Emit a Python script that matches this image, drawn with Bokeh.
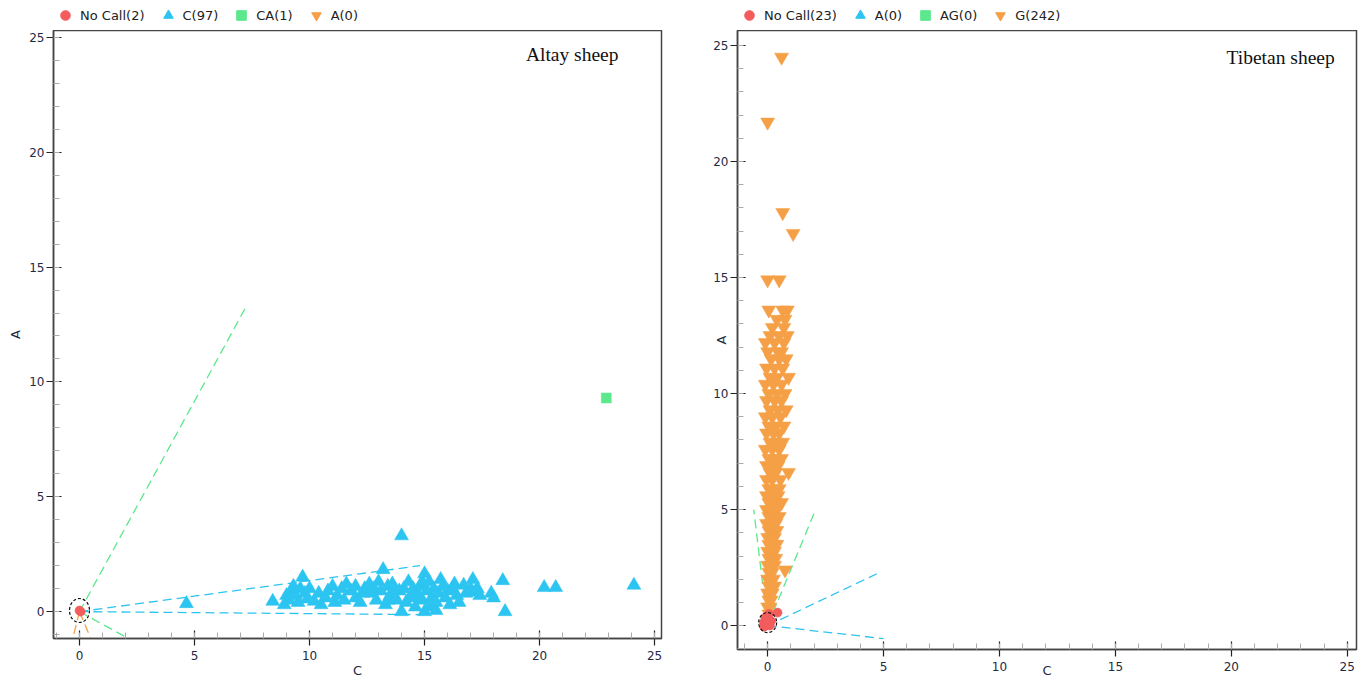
from bokeh.plotting import figure
from bokeh.layouts import row, column
from bokeh.models import Legend, LegendItem, Label, SingleIntervalTicker, Range1d
from bokeh.embed import file_html
from bokeh.resources import INLINE

# ---------------- data: Altay sheep ----------------
altay_nocall = [(0.0, 0.05), (0.05, 0.0)]
altay_C = [
    (4.65, 0.35), (14.0, 3.3), (20.2, 1.05), (20.7, 1.05), (24.1, 1.15), (18.4, 1.35), (18.5, 0.0),
    (8.4, 0.45), (8.9, 0.3), (9.1, 0.5), (9.2, 0.9), (9.3, 1.1), (9.4, 0.7), (9.5, 0.4), (9.6, 1.0),
    (9.7, 1.5), (9.8, 0.8), (9.9, 0.55), (10.0, 1.0), (10.2, 0.45), (9.0, 0.7), (10.4, 0.8),
    (10.5, 0.3), (10.7, 0.6), (10.8, 0.9), (11.0, 1.1), (11.1, 0.4), (11.2, 0.7), (11.4, 1.0),
    (11.5, 0.5), (11.6, 1.2), (11.8, 0.9), (12.0, 0.6), (12.0, 1.1), (12.2, 0.4), (12.3, 0.8),
    (12.4, 1.0), (12.6, 1.2), (12.7, 0.8), (12.8, 1.0), (12.9, 0.5), (13.0, 1.3), (13.1, 0.9),
    (13.2, 1.83), (13.3, 0.3), (13.4, 1.1), (13.4, 0.5), (13.5, 0.7), (13.6, 1.2), (13.7, 1.0),
    (13.8, 0.5), (13.9, 0.9), (14.0, 0.0), (14.1, 1.0), (14.2, 0.4), (14.3, 1.3), (14.4, 0.7),
    (14.5, 1.0), (14.6, 0.2), (14.6, 0.6), (14.7, 0.8), (14.8, 1.1), (14.9, 0.5), (14.9, 1.3),
    (15.0, 1.65), (15.0, 0.0), (15.1, 0.9), (15.2, 1.3), (15.2, 0.2), (15.3, 0.6), (15.4, 1.0),
    (15.5, 0.05), (15.5, 0.4), (15.6, 0.8), (15.7, 1.4), (15.8, 1.1), (15.9, 0.6), (16.0, 0.9),
    (16.1, 0.3), (16.2, 1.0), (16.3, 1.2), (16.4, 0.7), (16.5, 0.4), (16.7, 1.15), (16.8, 0.8),
    (17.0, 1.0), (17.1, 1.4), (17.2, 0.85), (17.3, 1.0), (17.4, 0.7), (17.9, 0.8), (18.0, 0.6),
]
altay_CA = [(22.9, 9.3)]
altay_A = []
altay_labels = ["No Call(2)", "C(97)", "CA(1)", "A(0)"]
# cluster boundary end points (lines start at origin)
altay_C_bounds = [(14.8, 2.0), (15.0, -0.13)]
altay_CA_bounds = [(7.2, 13.2), (2.0, -1.1)]
altay_A_bounds = [(-0.3, -1.2), (0.5, -1.2)]

# ---------------- data: Tibetan sheep ----------------
tibet_nocall = [(0.43, 0.56), (-0.17, 0.13), (-0.1, 0.35), (0.1, 0.0), (0.0, 0.25),
                (-0.15, -0.05), (0.05, 0.5), (0.15, 0.2), (-0.05, 0.1)]
tibet_A = []
tibet_AG = []
tibet_G = [
    (0.6, 24.5), (0.0, 21.7), (0.65, 17.8), (1.1, 16.9), (0.0, 14.9), (0.5, 14.9),
    (0.05, 13.6), (0.65, 13.6), (0.85, 13.6), (0.4, 13.2), (0.75, 13.2), (0.7, 12.85), (0.2, 12.85),
    (0.1, 12.5), (0.5, 12.5), (0.85, 12.5), (-0.1, 12.2), (0.3, 12.2), (0.7, 12.2),
    (0.0, 11.8), (0.45, 11.8), (0.6, 11.8), (0.15, 11.5), (0.5, 11.5), (0.8, 11.5),
    (-0.05, 11.1), (0.3, 11.1), (0.65, 11.1), (0.1, 10.7), (0.4, 10.7), (0.9, 10.7),
    (-0.1, 10.4), (0.25, 10.4), (0.6, 10.4), (0.05, 10.0), (0.4, 10.0), (0.75, 10.0),
    (-0.05, 9.7), (0.3, 9.7), (0.6, 9.7), (0.1, 9.3), (0.45, 9.3), (0.8, 9.3),
    (-0.1, 9.0), (0.2, 9.0), (0.55, 9.0), (0.05, 8.6), (0.35, 8.6), (0.7, 8.6),
    (-0.05, 8.3), (0.25, 8.3), (0.5, 8.3), (0.1, 7.9), (0.4, 7.9), (0.65, 7.9),
    (-0.1, 7.6), (0.2, 7.6), (0.5, 7.6), (0.05, 7.2), (0.3, 7.2), (0.6, 7.2),
    (-0.05, 6.9), (0.2, 6.9), (0.45, 6.9), (0.1, 6.6), (0.35, 6.6), (0.9, 6.6),
    (-0.05, 6.3), (0.2, 6.3), (0.55, 6.3), (0.05, 5.9), (0.3, 5.9), (0.5, 5.9),
    (-0.05, 5.6), (0.2, 5.6), (0.45, 5.6), (0.05, 5.3), (0.3, 5.3), (0.6, 5.3),
    (-0.05, 5.0), (0.15, 5.0), (0.4, 5.0), (0.05, 4.7), (0.25, 4.7), (0.5, 4.7),
    (-0.05, 4.4), (0.15, 4.4), (0.35, 4.4), (0.05, 4.1), (0.25, 4.1), (0.4, 4.1),
    (0.0, 3.8), (0.15, 3.8), (0.3, 3.8), (0.05, 3.5), (0.25, 3.5), (0.4, 3.5),
    (0.0, 3.2), (0.15, 3.2), (0.3, 3.2), (0.05, 2.9), (0.2, 2.9), (0.35, 2.9),
    (0.0, 2.6), (0.15, 2.6), (0.3, 2.6), (0.05, 2.3), (0.2, 2.3), (0.75, 2.4),
    (0.0, 2.0), (0.1, 2.0), (0.25, 2.0), (0.05, 1.7), (0.15, 1.7), (0.3, 1.7),
    (0.0, 1.4), (0.1, 1.4), (0.2, 1.4), (0.05, 1.1), (0.15, 1.1), (0.0, 0.8), (0.1, 0.8), (0.05, 0.5),
]
tibet_labels = ["No Call(23)", "A(0)", "AG(0)", "G(242)"]
tibet_A_bounds = [(4.85, 2.3), (5.0, -0.56)]
tibet_AG_bounds = [(-0.6, 5.0), (2.07, 5.0)]

RED = "#f25c5c"
CYAN = "#2cc4f0"
GREEN = "#5ce88c"
ORANGE = "#f5a046"
TICK_FONT = "DejaVu Sans"
NAN = float("nan")
MARKERS = ["circle", "triangle", "square", "inverted_triangle"]
COLORS = [RED, CYAN, GREEN, ORANGE]
SIZES = [9, 14, 10, 14]


def xs(pts):
    return [p[0] for p in pts]


def ys(pts):
    return [p[1] for p in pts]


def make_legend(width, height, labels):
    lf = figure(width=width, height=height, output_backend="svg", toolbar_location=None,
                x_range=Range1d(0, 1), y_range=Range1d(0, 1),
                x_axis_location=None, y_axis_location=None,
                min_border_left=0, min_border_right=0, min_border_top=0, min_border_bottom=0)
    lf.grid.visible = False
    lf.outline_line_color = None
    rs = []
    for mk, col in zip(MARKERS, COLORS):
        rs.append(lf.scatter(x=[NAN], y=[NAN], marker=mk, fill_color=col, line_color=col))
    items = [LegendItem(label=lab, renderers=[r]) for lab, r in zip(labels, rs)]
    lg = Legend(items=items, orientation="horizontal", location=(0, 0),
                border_line_color=None, background_fill_alpha=0,
                padding=0, margin=0, spacing=11,
                glyph_width=24, glyph_height=height, label_standoff=3,
                label_text_font=TICK_FONT, label_text_font_size="13px",
                label_text_color="#222222", label_height=14)
    lf.add_layout(lg)
    return lf


def make_panel(width, height, xr, yr, borders, groups, bounds, circle, title, title_pos,
               xlab_standoff, ylab_standoff):
    p = figure(width=width, height=height, output_backend="svg", toolbar_location=None,
               x_range=Range1d(*xr), y_range=Range1d(*yr),
               min_border_left=borders[0], min_border_right=borders[1],
               min_border_top=borders[2], min_border_bottom=borders[3],
               x_axis_label="C", y_axis_label="A")
    p.grid.visible = False
    p.outline_line_color = "#444444"
    p.outline_line_width = 1.5
    p.background_fill_color = "white"
    for ax in (p.xaxis[0], p.yaxis[0]):
        ax.ticker = SingleIntervalTicker(interval=5, num_minor_ticks=5)
        ax.axis_line_color = "#444444"
        ax.axis_line_width = 1.5
        ax.major_tick_in = 8
        ax.major_tick_out = 7
        ax.major_tick_line_color = "#222222"
        ax.major_tick_line_width = 1.2
        ax.minor_tick_in = 6
        ax.minor_tick_out = 0
        ax.minor_tick_line_color = "#aaaaaa"
        ax.major_label_text_font = TICK_FONT
        ax.major_label_text_font_size = "12px"
        ax.major_label_text_color = "#1f2a44"
        ax.axis_label_text_font = TICK_FONT
        ax.axis_label_text_font_size = "13px"
        ax.axis_label_text_font_style = "normal"
        ax.axis_label_text_color = "#1f2a44"
    p.xaxis[0].major_label_standoff = 5
    p.yaxis[0].major_label_standoff = 2
    p.xaxis[0].axis_label_standoff = xlab_standoff
    p.yaxis[0].axis_label_standoff = ylab_standoff

    # boundary lines
    for pts, col in bounds:
        p.segment(x0=[0.0] * len(pts), y0=[0.0] * len(pts), x1=xs(pts), y1=ys(pts),
                  line_color=col, line_width=1.3, line_dash="9 5")

    later = []
    for pts, mk, col, sz in zip(groups, MARKERS, COLORS, SIZES):
        if not pts:
            continue
        if mk == "circle":
            later.append((pts, mk, col, sz))
            continue
        p.scatter(x=xs(pts), y=ys(pts), marker=mk, size=sz,
                  fill_color=col, line_color=col, line_width=0.5)
    for pts, mk, col, sz in later:
        p.scatter(x=xs(pts), y=ys(pts), marker=mk, size=sz,
                  fill_color=col, line_color=col, line_width=0.5)

    p.ellipse(x=[circle[0]], y=[circle[1]], width=circle[2], height=circle[3],
              width_units="screen", height_units="screen",
              fill_alpha=0, line_color="#111111", line_width=1.2, line_dash="3 2")

    p.add_layout(Label(x=title_pos[0], y=title_pos[1], text=title, text_align="right",
                       text_baseline="middle", text_font="Liberation Serif",
                       text_font_size="19.5px", text_color="#111111"))
    return p


leg1 = make_legend(680, 30, altay_labels)
p1 = make_panel(
    680, 650, (-1.13, 25.3), (-1.17, 25.3), (53, 19, 0, 41),
    [altay_nocall, altay_C, altay_CA, altay_A],
    [(altay_CA_bounds, GREEN), (altay_C_bounds, CYAN), (altay_A_bounds, ORANGE)],
    (0.0, 0.05, 20, 24), "Altay sheep", (23.43, 24.26), 0, 3)

leg2 = make_legend(678, 30, tibet_labels)
p2 = make_panel(
    678, 650, (-1.3, 25.4), (-1.03, 25.65), (57, 2, 0, 30),
    [tibet_nocall, tibet_A, tibet_AG, tibet_G],
    [(tibet_AG_bounds, GREEN), (tibet_A_bounds, CYAN)],
    (0.0, 0.13, 18, 20), "Tibetan sheep", (24.46, 24.49), -11, -19)

layout = row(column(leg1, p1), column(leg2, p2))
open("out.html", "w").write(file_html(layout, INLINE))
